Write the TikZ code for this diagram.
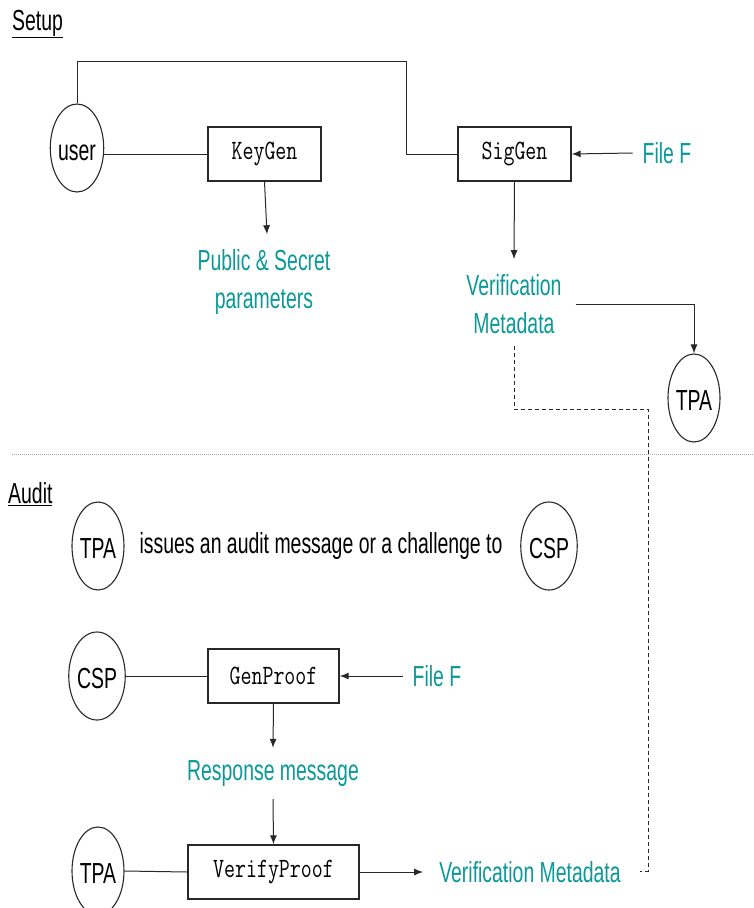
\documentclass[tikz,border=0pt]{standalone}
\usepackage{fontspec}
\usetikzlibrary{shapes.geometric,arrows.meta}
\newfontfamily\lab{Liberation Sans}[FakeStretch=0.67]
\newfontfamily\code{Latin Modern Mono}[FakeStretch=0.76]
\definecolor{tealtxt}{RGB}{10,152,152}
\definecolor{ln}{RGB}{40,40,40}
\tikzset{
  actor/.style={draw=ln, line width=1.1pt, ellipse, minimum width=52, minimum height=88, inner sep=0pt,
    text height=25pt, text depth=0pt, font=\lab\fontsize{29}{34}\selectfont},
  proc/.style={draw=ln, line width=1.4pt, rectangle, minimum height=54, inner sep=0pt,
    font=\code\fontsize{28}{32}\selectfont},
  outtxt/.style={text=tealtxt, align=center, inner sep=2pt, font=\lab\fontsize{29}{38}\selectfont},
  plaintxt/.style={inner sep=2pt, font=\lab\fontsize{29}{34}\selectfont},
  conn/.style={draw=ln, line width=1pt},
  arr/.style={conn, -{Latex[length=9pt,width=7pt]}},
}
\begin{document}
\begin{tikzpicture}[x=1pt,y=-1pt]
\useasboundingbox (0,0) rectangle (754,908);
% Setup
\node[plaintxt, anchor=west] (setup) at (10,24) {\underline{Setup}};
\node[actor] (user) at (77,148) {user};
\node[proc, minimum width=113] (keygen) at (264.5,154) {KeyGen};
\node[proc, minimum width=113] (siggen) at (514.5,154) {SigGen};
\node[outtxt] (filef1) at (667,153) {File F};
\node[outtxt] (pub) at (264,282) {Public \& Secret\\parameters};
\node[outtxt] (vm1) at (514,304) {Verification\\Metadata};
\node[actor] (tpa1) at (694,398) {TPA};
\coordinate (c1) at (406,61);
\coordinate (c2) at (648,409);
\coordinate (c3) at (640,871);
\draw[conn] (user.north) |- (c1) |- (siggen.west);
\draw[conn] (user.east |- keygen.west) -- (keygen.west);
\draw[arr] (keygen.south) -- ([xshift=3pt,yshift=13pt]pub.north);
\draw[arr] ([xshift=-8pt]filef1.west) -- (siggen.east);
\draw[arr] (siggen.south) -- ([yshift=13pt]vm1.north);
\draw[arr] ([xshift=12pt]vm1.east) -| (tpa1.north);
\draw[conn, dash pattern=on 4pt off 3pt] ([yshift=-10pt]vm1.south) |- (c2) |- (c3);
% separator
\draw[gray!70, line width=0.8pt, dash pattern=on 1pt off 1pt] (12,454) -- (754,454);
% Audit
\node[plaintxt, anchor=west] (audit) at (6,494) {\underline{Audit}};
\node[actor] (tpa2) at (98,546) {TPA};
\node[plaintxt] (issue) at (321,546) {issues an audit message or a challenge to};
\node[actor] (csp1) at (549,546) {CSP};
\node[actor] (csp2) at (97,676) {CSP};
\node[proc, minimum width=131] (genproof) at (273.5,676) {GenProof};
\node[outtxt] (filef2) at (437,676) {File F};
\node[outtxt] (resp) at (273,774) {Response message};
\node[actor] (tpa3) at (98,871) {TPA};
\node[proc, minimum width=171] (verify) at (273.5,872) {VerifyProof};
\node[outtxt] (vm2) at (530,872) {Verification Metadata};
\draw[conn] (csp2.east) -- (genproof.west);
\draw[arr] ([xshift=-8pt]filef2.west) -- (genproof.east);
\draw[arr] (genproof.south) -- ([yshift=11pt]resp.north);
\draw[arr] ([yshift=-10pt]resp.south) -- (verify.north);
\draw[conn] (tpa3.east) -- (verify.west);
\draw[arr] (verify.east) -- ([xshift=-14pt]vm2.west);
\end{tikzpicture}
\end{document}
